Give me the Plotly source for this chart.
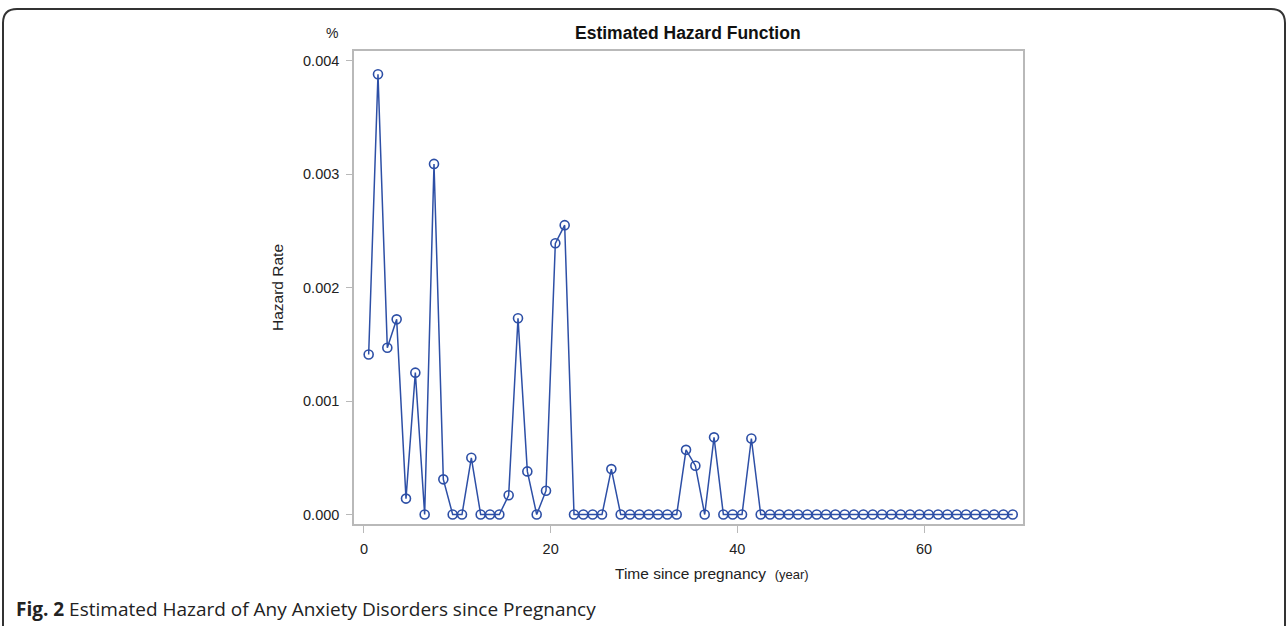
import plotly.graph_objects as go

# ---- data ----
time_years = [i + 0.5 for i in range(70)]
hazard_nonzero = {
    0.5: 0.00141, 1.5: 0.00388, 2.5: 0.00147, 3.5: 0.00172, 4.5: 0.00014,
    5.5: 0.00125, 7.5: 0.00309, 8.5: 0.00031, 11.5: 0.00050, 15.5: 0.00017,
    16.5: 0.00173, 17.5: 0.00038, 19.5: 0.00021, 20.5: 0.00239, 21.5: 0.00255,
    26.5: 0.00040, 34.5: 0.00057, 35.5: 0.00043, 37.5: 0.00068, 41.5: 0.00067,
}
hazard_rate = [hazard_nonzero.get(t, 0.0) for t in time_years]
y_ticks = [0.000, 0.001, 0.002, 0.003, 0.004]
x_ticks = [0, 20, 40, 60]

W, H = 1288, 626
L, R, T, B = 354, 1023, 51, 524
pw, ph = R - L, B - T

def px(x):
    return (x - L) / pw

def py(y):
    return (B - y) / ph

blue = "#2d4fa6"
font = "Liberation Sans, Arial, sans-serif"

fig = go.Figure()
fig.add_trace(go.Scatter(
    x=time_years, y=hazard_rate, mode="lines+markers",
    line=dict(color=blue, width=1.5),
    marker=dict(symbol="circle-open", size=9, color=blue, line=dict(width=1.6, color=blue)),
    showlegend=False, hoverinfo="x+y",
))

fig.update_layout(
    width=W, height=H,
    margin=dict(l=L, r=W - R, t=T, b=H - B, pad=0),
    paper_bgcolor="white", plot_bgcolor="white",
    font=dict(family=font, size=14, color="#222"),
    xaxis=dict(range=[-1.07, 70.6], tickvals=x_ticks, ticktext=[str(v) for v in x_ticks],
               showgrid=False, zeroline=False, showline=True, mirror=True,
               linecolor="#b9b9b9", linewidth=1.5, ticks="outside", ticklen=7,
               ticklabelstandoff=4,
               tickcolor="#b9b9b9", tickfont=dict(family=font, size=14.5, color="#222")),
    yaxis=dict(range=[-0.0000837, 0.004085], tickvals=y_ticks,
               ticktext=[f"{v:.3f}" for v in y_ticks],
               showgrid=False, zeroline=False, showline=True, mirror=True,
               linecolor="#b9b9b9", linewidth=1.5, ticks="outside", ticklen=6,
               ticklabelstandoff=4,
               tickcolor="#b9b9b9", tickfont=dict(family=font, size=14.5, color="#222")),
)

ann = [
    dict(text="<b>Estimated Hazard Function</b>", x=px(688), y=py(33), font=dict(family=font, size=17.5, color="#111")),
    dict(text="%", x=px(332), y=py(33), font=dict(family=font, size=14, color="#222")),
    dict(text="Hazard Rate", x=px(277), y=py(288), textangle=-90, font=dict(family=font, size=15.5, color="#222")),
    dict(text="Time since pregnancy  <span style='font-size:13px'>(year)</span>",
         x=px(712), y=py(573), font=dict(family=font, size=15.5, color="#222")),
]
for a in ann:
    fig.add_annotation(xref="paper", yref="paper", showarrow=False,
                       xanchor="center", yanchor="middle", **a)

fig.add_annotation(xref="paper", yref="paper", showarrow=False, xanchor="left", yanchor="middle",
                   x=px(14), y=py(609),
                   text="<b>Fig. 2</b> Estimated Hazard of Any Anxiety Disorders since Pregnancy",
                   font=dict(family="Open Sans, sans-serif", size=19, color="#222"))

# rounded card border
x0, x1, y0, y1, r = 3, 1285, 9, 660, 14
path = (f"M {px(x0)},{py(y0 + r)} Q {px(x0)},{py(y0)} {px(x0 + r)},{py(y0)} "
        f"L {px(x1 - r)},{py(y0)} Q {px(x1)},{py(y0)} {px(x1)},{py(y0 + r)} "
        f"L {px(x1)},{py(y1)} M {px(x0)},{py(y0 + r)} L {px(x0)},{py(y1)}")
fig.add_shape(type="path", xref="paper", yref="paper", path=path,
              line=dict(color="#333", width=2))

fig.write_html("out.html", config={"displayModeBar": False},
               post_script="document.body.style.margin='0';document.body.style.overflow='hidden';")
